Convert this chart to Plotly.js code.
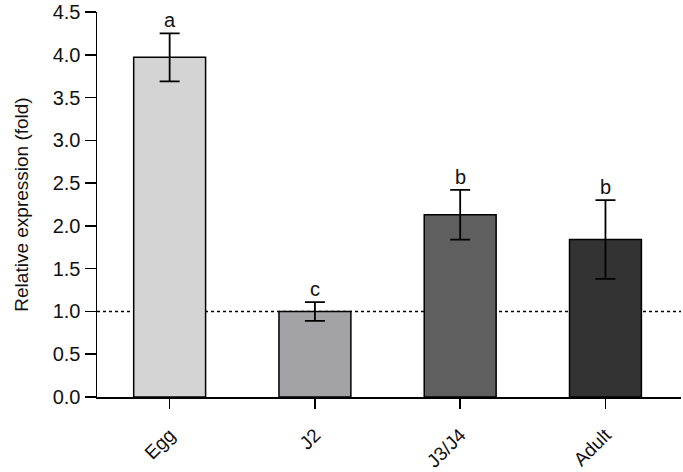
<!DOCTYPE html>
<html>
<head>
<meta charset="utf-8">
<script src="https://cdn.plot.ly/plotly-3.0.1.min.js"></script>
<style>
    html, body { margin: 0; padding: 0; background: #fff; }
    #chart { width: 683px; height: 472px; }
</style>
</head>
<body>
<div id="chart"></div>
<script>
// Stadi di sviluppo e valori
const stages = ["Egg", "J2", "J3/J4", "Adult"];
const expression = [3.97, 1.00, 2.13, 1.84];
const errors = [0.28, 0.11, 0.29, 0.46];
const letters = ["a", "c", "b", "b"];
const barColors = ["#d4d4d4", "#a3a3a7", "#5f5f5f", "#333333"];
const yTicks = [0, 0.5, 1.0, 1.5, 2.0, 2.5, 3.0, 3.5, 4.0, 4.5];

document.addEventListener("DOMContentLoaded", () => {
    renderChart();
});


function renderChart() {
    const trace = {
        type: "bar",
        x: stages,
        y: expression,
        width: 0.495,
        marker: {
            color: barColors,
            line: { color: "#000", width: 1.5 }
        },
        error_y: {
            type: "data",
            array: errors,
            visible: true,
            color: "#000",
            thickness: 1.8,
            width: 10
        },
        hoverinfo: "x+y"
    };

    // Lettere di significatività sopra le barre di errore
    const annotations = stages.map((stage, i) => ({
        x: stage,
        y: expression[i] + errors[i],
        text: letters[i],
        showarrow: false,
        yanchor: "bottom",
        yshift: 0,
        font: { size: 20, color: "#111" }
    }));

    const layout = {
        width: 683,
        height: 472,
        margin: { l: 97, r: 2, t: 12, b: 75 },
        paper_bgcolor: "#fff",
        plot_bgcolor: "#fff",
        showlegend: false,
        font: { family: "Arial, 'Liberation Sans', sans-serif", color: "#111" },
        xaxis: {
            type: "category",
            range: [-0.5, 3.52],
            showline: true,
            linecolor: "#000",
            linewidth: 1.5,
            ticks: "outside",
            ticklen: 10,
            tickwidth: 1.5,
            tickcolor: "#000",
            tickangle: -45,
            ticklabelstandoff: 8,
            tickfont: { size: 19 },
            showgrid: false,
            zeroline: false
        },
        yaxis: {
            range: [0, 4.5],
            tickvals: yTicks,
            ticktext: yTicks.map(v => v.toFixed(1)),
            showline: true,
            linecolor: "#000",
            linewidth: 1.5,
            ticks: "outside",
            ticklen: 11,
            tickwidth: 1.5,
            tickcolor: "#000",
            tickfont: { size: 20 },
            showgrid: false,
            zeroline: false,
            title: {
                text: "Relative expression (fold)",
                font: { size: 19 },
                standoff: 19
            }
        },
        shapes: [
            {
                type: "line",
                layer: "below",
                xref: "paper",
                x0: 0,
                x1: 1,
                yref: "y",
                y0: 1,
                y1: 1,
                line: { color: "#000", width: 1.5, dash: "dot" }
            }
        ],
        annotations: annotations
    };

    Plotly.newPlot("chart", [trace], layout, { displayModeBar: false, staticPlot: true });
}
</script>
</body>
</html>
